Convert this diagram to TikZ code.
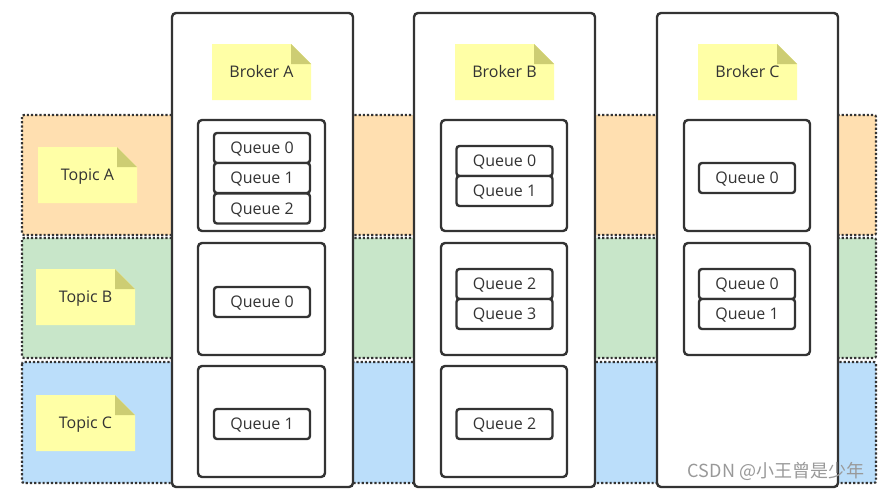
\documentclass[tikz,border=0pt]{standalone}
\usepackage{fontspec}
\setmainfont{Open Sans}
\newfontfamily\cjk{Noto Sans CJK SC}
\definecolor{lineC}{HTML}{333333}
\definecolor{textC}{HTML}{333333}
\definecolor{bandA}{HTML}{FFDFB0}
\definecolor{bandB}{HTML}{C8E6C9}
\definecolor{bandC}{HTML}{BBDEFA}
\definecolor{noteC}{HTML}{FFFFA6}
\definecolor{foldC}{HTML}{CDCD73}
\tikzset{
  band/.style={draw=lineC, line width=2.2pt, dash pattern=on 2.2pt off 2pt, rounded corners=2pt},
  broker/.style={draw=lineC, fill=white, line width=2.4pt, rounded corners=4pt},
  group/.style={draw=lineC, fill=white, line width=2.4pt, rounded corners=4pt},
  queue/.style={draw=lineC, fill=white, line width=2.4pt, rounded corners=3pt,
    minimum width=96pt, minimum height=30pt, inner sep=0pt, text=textC,
    text height=11.4pt, text depth=0pt, font=\fontsize{16}{16}\selectfont},
  note/.style={draw=none, minimum width=99pt, minimum height=56pt, inner sep=0pt, text=textC,
    text height=11.4pt, text depth=0pt, font=\fontsize{16}{16}\selectfont,
    path picture={
      \fill[noteC] (path picture bounding box.south west) -- (path picture bounding box.north west)
        -- ([xshift=-20pt]path picture bounding box.north east)
        -- ([yshift=-20pt]path picture bounding box.north east)
        -- (path picture bounding box.south east) -- cycle;
      \fill[foldC] ([xshift=-20pt]path picture bounding box.north east)
        -- ([xshift=-20pt,yshift=-20pt]path picture bounding box.north east)
        -- ([yshift=-20pt]path picture bounding box.north east) -- cycle;
    }},
}
\begin{document}
\begin{tikzpicture}[x=1pt,y=-1pt]
\useasboundingbox[fill=white] (0,0) rectangle (887,493);
% topic bands
\path[band, fill=bandA] (22,115) rectangle (876,235);
\path[band, fill=bandB] (22,238) rectangle (876,358);
\path[band, fill=bandC] (22,362) rectangle (876,483);
% brokers
\path[broker] (172,13) rectangle (353,487);
\path[broker] (414,13) rectangle (595,487);
\path[broker] (657,13) rectangle (838,487);
% topic notes
\node[note] (tA) at (87.5,175) {Topic A};
\node[note] (tB) at (85.5,297) {Topic B};
\node[note] (tC) at (85.5,423) {Topic C};
% broker notes
\node[note] (bA) at (261.5,72) {Broker A};
\node[note] (bB) at (504.5,72) {Broker B};
\node[note] (bC) at (747.5,72) {Broker C};
% groups
\path[group] (198,120) rectangle (325,231);
\path[group] (198,243) rectangle (325,355);
\path[group] (198,366) rectangle (325,477);
\path[group] (441,120) rectangle (567,231);
\path[group] (441,243) rectangle (567,355);
\path[group] (441,366) rectangle (567,477);
\path[group] (684,120) rectangle (810,231);
\path[group] (684,243) rectangle (810,355);
% queues broker A
\node[queue] (aA0) at (262,148) {Queue 0};
\node[queue] (aA1) at (262,178) {Queue 1};
\node[queue] (aA2) at (262,208.5) {Queue 2};
\node[queue] (aB0) at (262,302) {Queue 0};
\node[queue] (aC1) at (262,424) {Queue 1};
% queues broker B
\node[queue] (bA0) at (504.5,161) {Queue 0};
\node[queue] (bA1) at (504.5,191) {Queue 1};
\node[queue] (bB2) at (504.5,284) {Queue 2};
\node[queue] (bB3) at (504.5,314) {Queue 3};
\node[queue] (bC2) at (504.5,424) {Queue 2};
% queues broker C
\node[queue] (cA0) at (747,178) {Queue 0};
\node[queue] (cB0) at (747,284) {Queue 0};
\node[queue] (cB1) at (747,314) {Queue 1};
% watermark
\node[text=black!40, font=\cjk\fontsize{18}{18}\selectfont, inner sep=0pt] (wm) at (776,471) {CSDN @小王曾是少年};
\end{tikzpicture}
\end{document}
